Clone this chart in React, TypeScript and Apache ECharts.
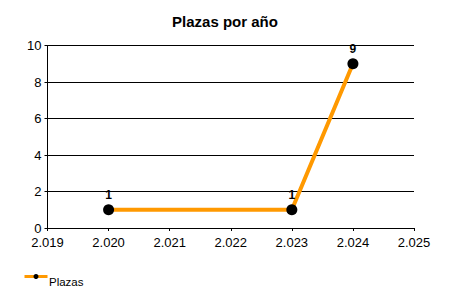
import React, { useEffect, useRef } from "react";
import * as echarts from "echarts";

const years = [2020, 2023, 2024];
const plazas = [1, 1, 9];
const xMin = 2019;
const xMax = 2025;
const yMax = 10;

const FONT = "'Liberation Sans', Arial, sans-serif";

export default function App() {
  const ref = useRef<HTMLDivElement>(null);
  useEffect(() => {
    if (!ref.current) return;
    const chart = echarts.init(ref.current, null, { renderer: "svg" });
    chart.setOption({
      animation: false,
      backgroundColor: "#fff",
      title: {
        text: "Plazas por año",
        left: "center",
        top: 9,
        textStyle: { fontFamily: FONT, fontSize: 15, fontWeight: "bold", color: "#000" },
      },
      legend: {
        left: 16,
        top: 271,
        itemWidth: 23,
        itemHeight: 12,
        itemGap: 4,
        textStyle: { fontFamily: FONT, fontSize: 11.5, color: "#000" },
        data: [{ name: "Plazas", icon: "none" }],
      },
      grid: { left: 47.5, right: 36, top: 45.5, bottom: 72, containLabel: false },
      xAxis: {
        type: "value",
        min: xMin,
        max: xMax,
        interval: 1,
        axisLine: { show: true, onZero: false, lineStyle: { color: "#000", width: 1 } },
        axisTick: { show: true, length: 3, lineStyle: { color: "#000" } },
        splitLine: { show: false },
        axisLabel: {
          fontFamily: FONT,
          fontSize: 13,
          color: "#000",
          margin: 8,
          formatter: (v: number) => {
            const s = String(v);
            return s.slice(0, 1) + "." + s.slice(1);
          },
        },
      },
      yAxis: {
        type: "value",
        min: 0,
        max: yMax,
        interval: 2,
        axisLine: { show: true, lineStyle: { color: "#000", width: 1 } },
        axisTick: { show: true, length: 3, lineStyle: { color: "#000" } },
        splitLine: { show: true, lineStyle: { color: "#000", width: 1 } },
        axisLabel: { fontFamily: FONT, fontSize: 13, color: "#000", margin: 6 },
      },
      series: [
        {
          name: "Plazas",
          type: "line",
          data: years.map((y, i) => [y, plazas[i]]),
          symbol: "circle",
          symbolSize: 11,
          itemStyle: { color: "#000" },
          lineStyle: { color: "#FF9900", width: 4 },
          label: {
            show: true,
            position: "top",
            distance: 3,
            fontFamily: FONT,
            fontSize: 12,
            fontWeight: "bold",
            color: "#000",
            formatter: (p: any) => String(p.value[1]),
          },
          z: 3,
        },
      ],
      graphic: [
        {
          type: "group",
          left: 22,
          top: 274,
          children: [
            { type: "line", shape: { x1: 0, y1: 3.5, x2: 23, y2: 3.5 }, style: { stroke: "#FF9900", lineWidth: 3 } },
            { type: "circle", shape: { cx: 11.5, cy: 3.5, r: 2.5 }, style: { fill: "#000" } },
          ],
        },
      ],
    });
    return () => chart.dispose();
  }, []);
  return (
    <div
      ref={ref}
      style={{ position: "fixed", left: 0, top: 0, width: 450, height: 300 }}
    />
  );
}
